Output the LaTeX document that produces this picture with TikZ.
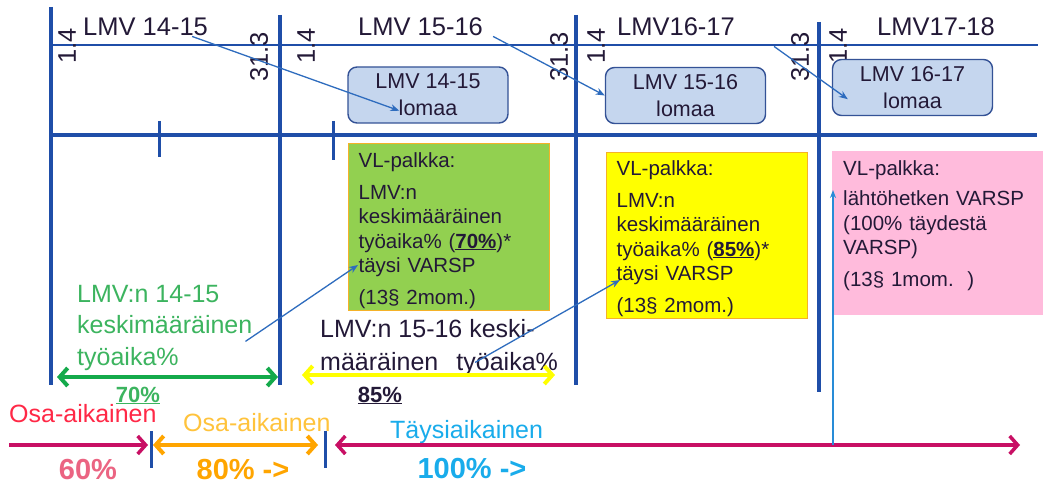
\documentclass[tikz,border=0pt]{standalone}
\usepackage{fontspec}
\setmainfont{Liberation Sans}
\usetikzlibrary{arrows.meta}

\definecolor{frameblue}{RGB}{31,78,168}
\definecolor{linkblue}{RGB}{46,108,190}
\definecolor{lomaafill}{RGB}{197,214,238}
\definecolor{lomaaedge}{RGB}{52,82,150}
\definecolor{vlgreen}{RGB}{146,208,80}
\definecolor{vlyellow}{RGB}{255,255,0}
\definecolor{vlpink}{RGB}{255,187,220}
\definecolor{boxedge}{RGB}{245,178,40}
\definecolor{textdark}{RGB}{35,25,55}
\definecolor{txtgreen}{RGB}{60,180,95}
\definecolor{spangreen}{RGB}{20,170,75}
\definecolor{osared}{RGB}{255,40,70}
\definecolor{osaorange}{RGB}{255,195,60}
\definecolor{pctorange}{RGB}{255,165,0}
\definecolor{pctpink}{RGB}{235,100,130}
\definecolor{skyblue}{RGB}{25,172,235}
\definecolor{upblue}{RGB}{40,140,215}
\definecolor{spanmagenta}{RGB}{200,15,100}

\newcommand{\lmvsize}{\fontsize{25.5}{30}\selectfont}
\newcommand{\lomaasize}{\fontsize{21.5}{27}\selectfont}
\newcommand{\boxsize}{\fontsize{20.5}{24.5}\selectfont}
\newcommand{\midsize}{\fontsize{25}{31.5}\selectfont}
\newcommand{\pctsize}{\fontsize{29}{32}\selectfont\bfseries}

\begin{document}
\begin{tikzpicture}[x=1pt, y=-1pt,
    frame/.style={frameblue, line width=3.5pt},
    txt/.style={inner sep=0pt, anchor=base west},
    date/.style={rotate=90, inner sep=0pt, font=\lmvsize, text=textdark},
    lomaa/.style={draw=lomaaedge, line width=1.4pt, fill=lomaafill, rounded corners=9pt,
      minimum width=160pt, minimum height=56pt, inner sep=0pt, align=center,
      font=\lomaasize, text=textdark},
    vlbox/.style={anchor=north west, inner xsep=10pt, inner ysep=2pt, text width=181pt,
      align=left, font=\boxsize, text=textdark},
    link/.style={linkblue, line width=1.3pt, -{Stealth[length=9pt,width=7pt]}},
    span/.style={line width=4pt, {Straight Barb[length=8pt,width=18pt]}-{Straight Barb[length=8pt,width=18pt]}},
  ]
  \fill[white] (0,0) rectangle (1049,486);
  \useasboundingbox (0,0) rectangle (1049,486);

  % time axis
  \draw[frameblue, line width=1.8pt] (52,45) -- (1038,45);
  \draw[frame] (52,135) -- (1037,135);
  \foreach \a/\b/\c in {51/7/385, 280/15/385, 576/15/385, 819/22/392}
    \draw[frame] (\a,\b) -- (\a,\c);
  \draw[frame, line width=3pt] (159,121) -- (159,157);
  \draw[frame, line width=3pt] (333,121) -- (333,160);

  \foreach \x in {67,306,596,838}
    \node[date] (start\x) at (\x,46) {1.4};
  \foreach \x in {259,559,800}
    \node[date] (end\x) at (\x,57) {31.3};

  \node[txt, font=\lmvsize, text=textdark] (t1415) at (83,36) {LMV 14-15};
  \node[txt, font=\lmvsize, text=textdark] (t1516) at (358,36) {LMV 15-16};
  \node[txt, font=\lmvsize, text=textdark] (t1617) at (617,36) {LMV16-17};
  \node[txt, font=\lmvsize, text=textdark] (t1718) at (877,36) {LMV17-18};

  \node[lomaa] (l1415) at (428,95) {LMV 14-15\\lomaa};
  \node[lomaa] (l1516) at (685.5,95.5) {LMV 15-16\\lomaa};
  \node[lomaa] (l1617) at (912.5,87.5) {LMV 16-17\\lomaa};

  % salary boxes
  \node[vlbox, fill=vlgreen, draw=boxedge, line width=1.2pt] (vl1415) at (348,143)
    {\rule{0pt}{22pt}VL-palkka:\\[7pt] LMV:n\\ keskimääräinen\\ työaika\% (\underline{\textbf{70\%}})*\\ täysi VARSP\\[7pt] (13§ 2mom.)};
  \node[vlbox, fill=vlyellow, draw=boxedge, line width=1.2pt] (vl1516) at (606,152)
    {\rule{0pt}{21pt}VL-palkka:\\[7pt] LMV:n\\ keskimääräinen\\ työaika\% (\underline{\textbf{85\%}})*\\ täysi VARSP\\[7pt] (13§ 2mom.)};
  \node[vlbox, fill=vlpink, inner xsep=11pt, text width=189pt] (vl1617) at (832,151)
    {\rule{0pt}{22pt}VL-palkka:\\[6pt] lähtöhetken VARSP\\ (100\% täydestä\\ VARSP)\\[7pt] (13§ 1mom.\ \ )\rule[-27pt]{0pt}{27pt}};

  % average working time
  \node[txt, align=left, font=\midsize, text=txtgreen] (avg1415) at (77,365)
    {LMV:n 14-15\\keskimääräinen\\työaika\%};
  \node[txt, align=left, font={\fontsize{25}{33}\selectfont}, text=textdark] (avg1516) at (320,370)
    {LMV:n 15-16 keski-\\määräinen\hspace{0.45em} työaika\%};
  \draw[span, spangreen] (57,377) -- (278,377);
  \draw[span, vlyellow] (302,375) -- (555,375);
  \node[inner sep=0pt, anchor=base, font={\fontsize{22}{26}\selectfont\bfseries}, text=txtgreen] (p70) at (138,402) {\underline{70\%}};
  \node[inner sep=0pt, anchor=base, font={\fontsize{22}{26}\selectfont\bfseries}, text=textdark] (p85) at (380,402) {\underline{85\%}};

  % employment
  \node[txt, font=\midsize, text=osared] (osa60) at (9,422) {Osa-aikainen};
  \node[txt, font=\midsize, text=osaorange] (osa80) at (183,431) {Osa-aikainen};
  \node[txt, font=\midsize, text=skyblue] (taysi) at (390,438) {Täysiaikainen};
  \coordinate (cut60) at (151,445);
  \coordinate (cut80) at (325,445);
  \coordinate (cut100) at (833,445);
  \draw[spanmagenta, line width=3.5pt, -{Straight Barb[length=8pt,width=18pt]}] (9,445) -- ([xshift=-3pt]cut60);
  \draw[frame, line width=3pt] ([yshift=14pt]cut60) -- ([yshift=-23pt]cut60);
  \draw[frame, line width=3pt] ([yshift=14pt]cut80) -- ([yshift=-23pt]cut80);
  \draw[span, pctorange] ([xshift=2pt]cut60) -- ([xshift=-7pt]cut80);
  \draw[spanmagenta, line width=3.5pt, {Straight Barb[length=8pt,width=18pt]}-{Straight Barb[length=8pt,width=18pt]}] ([xshift=10pt]cut80) -- (1020,445);
  \node[inner sep=0pt, anchor=base, font=\pctsize, text=pctpink] (n60) at (88,479) {60\%};
  \node[inner sep=0pt, anchor=base, font=\pctsize, text=pctorange] (n80) at (243,479) {80\% ->};
  \node[inner sep=0pt, anchor=base, font=\pctsize, text=skyblue] (n100) at (472,478) {100\% ->};

  % links
  \draw[link] ([xshift=-16pt]t1415.south east) -- ([xshift=52pt,yshift=13pt]l1415.south west);
  \draw[link] ([xshift=10pt]t1516.south east) -- (l1516.west);
  \draw[link] ([xshift=39pt,yshift=-10pt]t1617.south east) -- ([xshift=16pt,yshift=17pt]l1617.south west);
  \draw[link] ([xshift=-7pt,yshift=29pt]avg1415.south east) -- ([xshift=10pt,yshift=-122pt]vl1415.north west);
  \draw[link] ([xshift=-83pt,yshift=13pt]avg1516.south east) -- ([xshift=14pt,yshift=-128pt]vl1516.north west);
  \draw[upblue, line width=1.3pt, -{Stealth[length=8pt,width=6pt]}] (cut100) -- ([xshift=1pt,yshift=-39pt]vl1617.north west);
\end{tikzpicture}
\end{document}
